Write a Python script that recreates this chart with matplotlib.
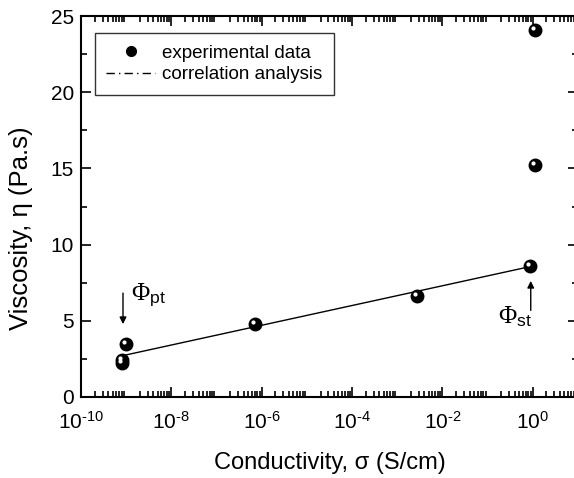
import numpy as np
import matplotlib
matplotlib.use('Agg')
import matplotlib.pyplot as plt
import matplotlib.transforms as mtransforms
from matplotlib.lines import Line2D
from matplotlib.ticker import LogLocator, MultipleLocator, NullFormatter

# experimental points (conductivity S/cm, viscosity Pa.s)
sigma = [8.0e-10, 8.0e-10, 1.0e-9, 7.0e-7, 2.7e-3, 0.85, 1.1, 1.1]
eta = [2.2, 2.4, 3.5, 4.8, 6.6, 8.6, 15.2, 24.1]

# correlation line end points
fit_sigma = [8.0e-10, 0.85]
fit_eta = [2.7, 8.55]

xtick_pos = [1e-10, 1e-8, 1e-6, 1e-4, 1e-2, 1e0]
xtick_exp = ['\u201010', '\u20108', '\u20106', '\u20104', '\u20102', '0']
xtick_lab = ['$\\mathsf{10^{' + e + '}}$' for e in xtick_exp]

plt.rcParams['font.family'] = ['Liberation Sans', 'DejaVu Sans']
plt.rcParams['mathtext.fontset'] = 'custom'
plt.rcParams['mathtext.rm'] = 'Liberation Serif'
plt.rcParams['mathtext.it'] = 'Liberation Serif'
plt.rcParams['mathtext.sf'] = 'Liberation Sans'

fig = plt.figure(figsize=(5.74, 4.78), dpi=100)
ax = fig.add_axes([81/574, 1-397/478, 497/574, 381/478])

ax.plot(fit_sigma, fit_eta, color='black', lw=1.0, zorder=2)
ax.plot(sigma, eta, 'o', color='black', ms=9, zorder=3)
# white glint on the spheres
glint = mtransforms.offset_copy(ax.transData, fig=fig, x=-2, y=2, units='dots')
ax.plot(sigma, eta, 'o', color='white', ms=2, transform=glint, zorder=4)

ax.set_xscale('log')
ax.set_xlim(1e-10, 10)
ax.set_ylim(0, 25)
ax.xaxis.set_major_locator(LogLocator(base=10, numticks=20))
ax.xaxis.set_minor_locator(LogLocator(base=10, subs=np.arange(2, 10), numticks=20))
ax.xaxis.set_minor_formatter(NullFormatter())
ax.set_xticks(xtick_pos)
ax.set_xticklabels(xtick_lab)
ax.yaxis.set_major_locator(MultipleLocator(5))
ax.yaxis.set_minor_locator(MultipleLocator(2.5))

ax.tick_params(which='both', direction='in', top=True, right=True, labelsize=15, width=1.2)
ax.tick_params(which='major', length=7)
ax.tick_params(axis='x', which='major', pad=10)
ax.tick_params(axis='y', which='major', pad=5)
ax.tick_params(which='minor', length=4)
for s in ax.spines.values():
    s.set_linewidth(1.5)

ax.set_xlabel('Conductivity, σ (S/cm)', fontsize=17, labelpad=14)
ax.set_ylabel('Viscosity, η (Pa.s)', fontsize=18.5)
ax.yaxis.set_label_coords(-0.097, 0.444)

# arrows for the thresholds
ax.annotate('', xy=(8.5e-10, 4.6), xytext=(8.5e-10, 7.0),
            arrowprops=dict(arrowstyle='-|>', color='black', lw=1.0, mutation_scale=10))
ax.text(1.3e-9, 6.35, r'$\Phi_{\mathsf{pt}}$', fontsize=18)
ax.annotate('', xy=(0.9, 7.8), xytext=(0.9, 5.5),
            arrowprops=dict(arrowstyle='-|>', color='black', lw=1.0, mutation_scale=10))
ax.text(0.17, 4.85, r'$\Phi_{\mathsf{st}}$', fontsize=18)

handles = [Line2D([], [], marker='o', color='black', ls='none', ms=7),
           Line2D([], [], color='black', ls=(0, (6, 3, 1, 3)), lw=1.0)]
leg = ax.legend(handles, ['experimental data', 'correlation analysis'],
                loc='upper left', bbox_to_anchor=(0.028, 0.955), borderaxespad=0,
                fontsize=13.5, frameon=True, fancybox=False, edgecolor='black',
                borderpad=0.6, handlelength=2.6, labelspacing=0.25, handletextpad=0.4)
leg.get_frame().set_linewidth(1.0)

fig.savefig('out.png', dpi=100)
